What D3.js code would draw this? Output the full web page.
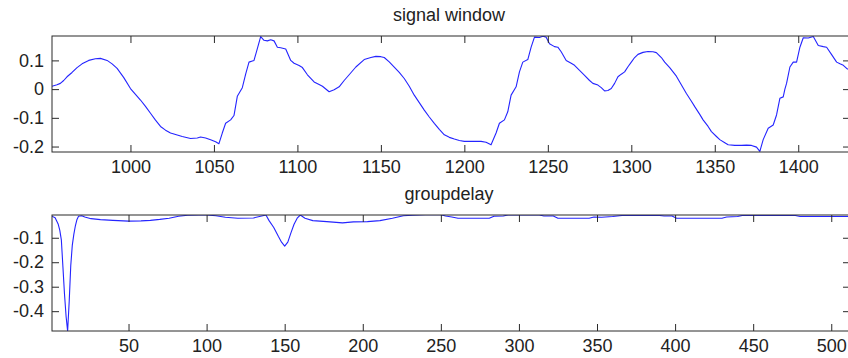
<!DOCTYPE html>
<html>
<head>
<meta charset="utf-8">
<script src="https://cdn.jsdelivr.net/npm/d3@7"></script>
<style>
  html, body { margin: 0; padding: 0; background: #fff; }
  svg { display: block; }
  text { font-family: "Liberation Sans", Arial, Helvetica, sans-serif; fill: #222; }
</style>
</head>
<body>
<svg id="chart" width="848" height="358"></svg>
<script>
// ---- signal window: sample index and amplitude ----
const signalT = [953,956,958,960,962,965,968,971,975,979,982,986,989,992,996,1000,1003,1006,1009,1012,1015,1018,1021,1024,1028,1031,1036,1040,1042,1045,1048,1051,1053,1055,1057,1060,1062,1064,1067,1069,1071,1073,1074,1076,1078,1080,1082,1084,1086,1088,1090,1093,1096,1098,1101,1103,1106,1110,1113,1115,1119,1122,1125,1128,1131,1135,1140,1144,1147,1150,1152,1155,1158,1161,1164,1167,1170,1173,1176,1179,1182,1185,1188,1191,1194,1197,1200,1205,1210,1213,1216,1219,1221,1224,1226,1228,1231,1233,1235,1238,1240,1242,1245,1247,1249,1251,1254,1256,1258,1261,1264,1266,1269,1272,1275,1277,1280,1282,1284,1286,1288,1290,1292,1294,1296,1298,1300,1302,1304,1307,1310,1313,1315,1318,1320,1323,1325,1327,1329,1331,1333,1336,1338,1341,1343,1346,1348,1351,1353,1356,1358,1362,1366,1369,1372,1375,1377,1379,1382,1385,1387,1389,1391,1392,1393,1395,1397,1399,1401,1403,1406,1409,1412,1415,1417,1420,1423,1425,1427,1429,1431];
const signalV = [0.010,0.015,0.020,0.030,0.043,0.058,0.075,0.088,0.100,0.106,0.107,0.100,0.088,0.072,0.040,0.002,-0.018,-0.038,-0.060,-0.084,-0.108,-0.130,-0.143,-0.153,-0.160,-0.165,-0.172,-0.170,-0.167,-0.170,-0.176,-0.183,-0.190,-0.153,-0.119,-0.107,-0.092,-0.025,0.005,0.052,0.094,0.098,0.100,0.141,0.183,0.170,0.168,0.172,0.168,0.146,0.144,0.140,0.100,0.090,0.082,0.075,0.050,0.025,0.016,0.010,-0.009,-0.002,0.008,0.030,0.050,0.077,0.103,0.110,0.114,0.113,0.110,0.095,0.077,0.058,0.037,0.010,-0.021,-0.047,-0.073,-0.097,-0.119,-0.140,-0.159,-0.168,-0.174,-0.179,-0.182,-0.182,-0.182,-0.185,-0.194,-0.153,-0.119,-0.107,-0.079,-0.021,0.008,0.060,0.094,0.103,0.146,0.181,0.180,0.184,0.181,0.158,0.148,0.146,0.130,0.100,0.090,0.083,0.065,0.048,0.030,0.020,0.014,0.005,-0.006,-0.005,0.002,0.020,0.043,0.052,0.060,0.078,0.094,0.110,0.121,0.128,0.131,0.130,0.127,0.110,0.094,0.075,0.060,0.045,0.025,0.005,-0.015,-0.042,-0.061,-0.088,-0.107,-0.130,-0.148,-0.165,-0.176,-0.187,-0.194,-0.196,-0.196,-0.195,-0.196,-0.202,-0.217,-0.176,-0.136,-0.125,-0.090,-0.032,-0.027,0.000,0.020,0.077,0.094,0.094,0.146,0.179,0.178,0.183,0.152,0.148,0.146,0.120,0.094,0.088,0.083,0.072,0.066];

// ---- group delay: bin index and delay ----
const delayT = [1,3,5,6,7,8,9,10,11,12,13,14,15,16,17,18,20,22,26,32,40,50,58,64,70,76,82,88,95,100,106,112,120,130,136,138,140,143,146,148,150,152,154,156,158,160,163,168,177,187,194,203,211,219,226,232,240,250,253,257,261,281,284,290,293,313,316,322,325,345,348,353,360,366,390,393,398,401,430,433,440,443,477,480,512];
const delayV = [-0.012,-0.018,-0.045,-0.070,-0.110,-0.220,-0.330,-0.420,-0.481,-0.362,-0.215,-0.130,-0.085,-0.050,-0.025,-0.012,-0.010,-0.015,-0.022,-0.026,-0.029,-0.032,-0.031,-0.029,-0.025,-0.020,-0.012,-0.008,-0.007,-0.007,-0.010,-0.016,-0.020,-0.019,-0.010,-0.007,-0.030,-0.058,-0.095,-0.118,-0.134,-0.118,-0.080,-0.045,-0.020,-0.007,-0.020,-0.030,-0.034,-0.039,-0.035,-0.034,-0.030,-0.020,-0.010,-0.008,-0.006,-0.006,-0.011,-0.015,-0.020,-0.020,-0.012,-0.011,-0.007,-0.007,-0.011,-0.011,-0.020,-0.020,-0.015,-0.016,-0.013,-0.009,-0.009,-0.011,-0.011,-0.020,-0.020,-0.015,-0.013,-0.009,-0.009,-0.013,-0.013];

// ---- axis ticks and titles ----
const signalXTicks = [1000,1050,1100,1150,1200,1250,1300,1350,1400];
const signalYTicks = [-0.2,-0.1,0,0.1];
const delayXTicks = [50,100,150,200,250,300,350,400,450,500];
const delayYTicks = [-0.4,-0.3,-0.2,-0.1];
const titles = ["signal window", "groupdelay"];

const svg = d3.select("#chart");
const fmt = d => String(d);
const FONT = "18px";

function panel(cfg) {
  const { left, right, top, bottom, xDomain, yDomain, xTicks, yTicks, t, v, title, id } = cfg;
  const x = d3.scaleLinear().domain(xDomain).range([left, right]);
  const y = d3.scaleLinear().domain(yDomain).range([bottom, top]);
  const g = svg.append("g");

  g.append("clipPath").attr("id", id)
    .append("rect").attr("x", left).attr("y", top)
    .attr("width", right - left).attr("height", bottom - top);

  const pts = t.map((d, i) => [d, v[i]]);
  g.append("path")
    .datum(pts)
    .attr("clip-path", `url(#${id})`)
    .attr("fill", "none")
    .attr("stroke", "#2424ff")
    .attr("stroke-width", 1.1)
    .attr("stroke-linejoin", "round")
    .attr("d", d3.line().x(d => x(d[0])).y(d => y(d[1])));

  const style = sel => {
    sel.select(".domain").remove();
    sel.selectAll(".tick line").attr("stroke", "#2a2a2a");
    sel.selectAll(".tick text").attr("fill", "#262626")
      .style("font-size", FONT);
  };

  g.append("g").attr("transform", `translate(0,${bottom})`)
    .call(d3.axisBottom(x).tickValues(xTicks).tickFormat(fmt).tickSize(-7).tickPadding(8))
    .call(style);
  g.append("g").attr("transform", `translate(0,${top})`)
    .call(d3.axisTop(x).tickValues(xTicks).tickFormat("").tickSize(-7))
    .call(style);
  g.append("g").attr("transform", `translate(${left},0)`)
    .call(d3.axisLeft(y).tickValues(yTicks).tickFormat(fmt).tickSize(-7).tickPadding(8))
    .call(style);
  g.append("g").attr("transform", `translate(${right},0)`)
    .call(d3.axisRight(y).tickValues(yTicks).tickFormat("").tickSize(-7))
    .call(style);

  g.selectAll("text").attr("font-family", null);

  g.append("rect")
    .attr("x", left).attr("y", top)
    .attr("width", right - left).attr("height", bottom - top)
    .attr("fill", "none").attr("stroke", "#2a2a2a").attr("stroke-width", 1);

  g.append("text")
    .attr("x", (left + right) / 2 - 2).attr("y", cfg.titleY)
    .attr("text-anchor", "middle")
    .attr("fill", "#262626")
    .style("font-size", FONT)
    .text(title);
}

panel({
  id: "clipSignal", left: 52, right: 850, top: 36, bottom: 152,
  xDomain: [953, 1431], yDomain: [-0.219, 0.185],
  xTicks: signalXTicks, yTicks: signalYTicks,
  t: signalT, v: signalV, title: titles[0], titleY: 21
});

panel({
  id: "clipDelay", left: 52, right: 850, top: 215, bottom: 331,
  xDomain: [1, 512], yDomain: [-0.481, -0.007],
  xTicks: delayXTicks, yTicks: delayYTicks,
  t: delayT, v: delayV, title: titles[1], titleY: 200
});
</script>
</body>
</html>
